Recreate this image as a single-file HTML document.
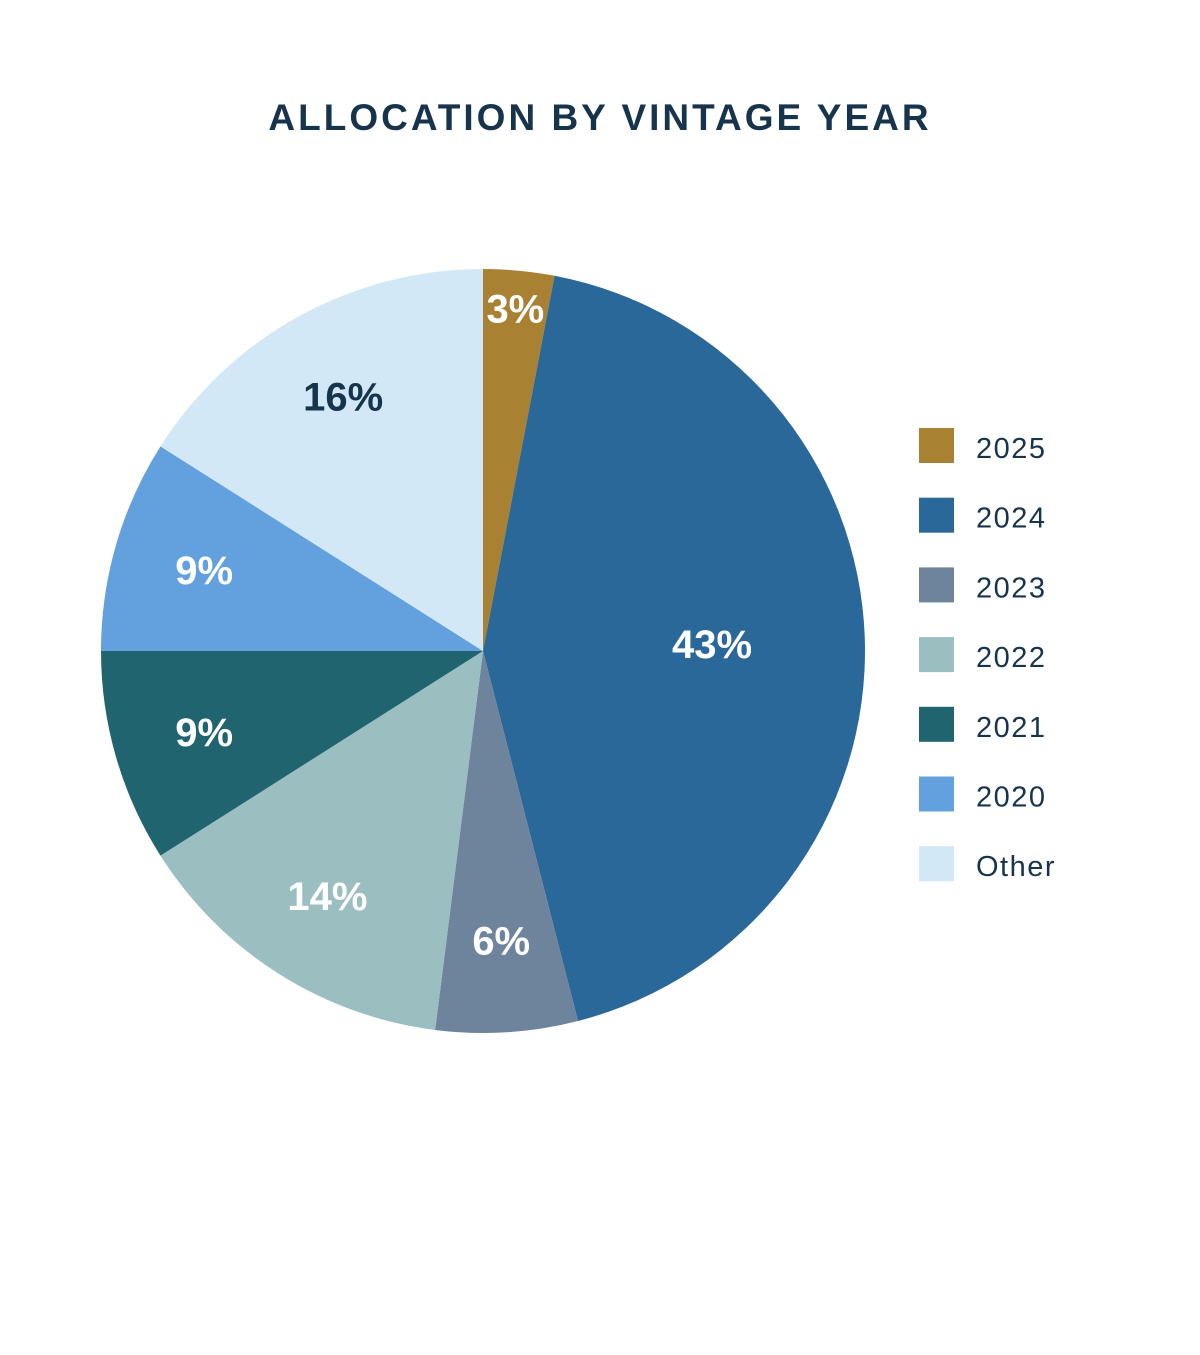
<!DOCTYPE html>
<html><head><meta charset="utf-8"><style>
body{margin:0;background:#fff;width:1200px;height:1350px;overflow:hidden;font-family:"Liberation Sans",sans-serif}
</style></head><body>
<svg width="1200" height="1350">
<text x="600" y="130" text-anchor="middle" font-size="37" font-weight="bold" letter-spacing="3" fill="#17344D">ALLOCATION BY VINTAGE YEAR</text>
<g id="slices"></g><g id="labels"></g><g id="legend"></g>
</svg>
<script>
const categories=["2025","2024","2023","2022","2021","2020","Other"];
const values=[3,43,6,14,9,9,16];
const colors=["#A88133","#296899","#6E849C","#9BBFC1","#1F646E","#62A0DE","#D3E8F7"];
const labelColors=["#fff","#fff","#fff","#fff","#fff","#fff","#17344D"];
const NS="http://www.w3.org/2000/svg";
const cx=483,cy=651,R=382;
const total=values.reduce((a,b)=>a+b,0);
const sg=document.getElementById('slices'),lg=document.getElementById('labels'),leg=document.getElementById('legend');
function pt(a,r){return [cx+r*Math.sin(a),cy-r*Math.cos(a)];}
let acc=0;
values.forEach((v,i)=>{
  const a0=acc/total*2*Math.PI; acc+=v; const a1=acc/total*2*Math.PI;
  const p0=pt(a0,R),p1=pt(a1,R);
  const p=document.createElementNS(NS,'path');
  p.setAttribute('d',`M${cx},${cy}L${p0[0]},${p0[1]}A${R},${R} 0 ${a1-a0>Math.PI?1:0} 1 ${p1[0]},${p1[1]}Z`);
  p.setAttribute('fill',colors[i]);
  
  
  sg.appendChild(p);
  const frac=v/total;
  const lr=frac>0.3?0.6*R:(frac<0.05?0.9*R:0.76*R);
  const lp=pt((a0+a1)/2,lr);
  const t=document.createElementNS(NS,'text');
  t.setAttribute('x',lp[0]);t.setAttribute('y',lp[1]+14);
  t.setAttribute('text-anchor','middle');t.setAttribute('font-size','40');t.setAttribute('font-weight','bold');
  t.setAttribute('fill',labelColors[i]);
  t.textContent=v+'%';
  
  
  lg.appendChild(t);
  const y=428+i*69.7;
  const r=document.createElementNS(NS,'rect');
  r.setAttribute('x',919);r.setAttribute('y',y);r.setAttribute('width',35);r.setAttribute('height',35);r.setAttribute('fill',colors[i]);
  
  
  leg.appendChild(r);
  const lt=document.createElementNS(NS,'text');
  lt.setAttribute('x',976);lt.setAttribute('y',y+30);lt.setAttribute('font-size','29');lt.setAttribute('letter-spacing','1.5');lt.setAttribute('fill','#17344D');
  lt.textContent=categories[i];
  
  
  leg.appendChild(lt);
});
</script>
</body></html>
